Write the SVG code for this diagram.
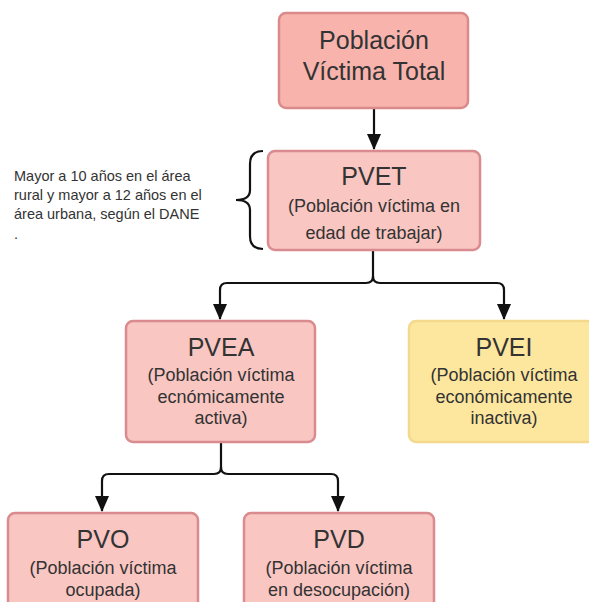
<svg xmlns="http://www.w3.org/2000/svg" width="589" height="602" viewBox="0 0 589 602">
  <defs>
    <marker id="arr" markerUnits="userSpaceOnUse" markerWidth="16" markerHeight="14" refX="15" refY="7" orient="auto" viewBox="0 0 16 14">
      <path d="M0,0 L16,7 L0,14 Z" fill="#111"/>
    </marker>
    <style>
      .pink { fill: #f9c6c2; stroke: #d98b8f; stroke-width: 2.5; }
      .pinkTop { fill: #f8b3ad; stroke: #db8a8c; stroke-width: 2.5; }
      .yellow { fill: #fde79f; stroke: #f4d88c; stroke-width: 2.5; }
      text { font-family: "Liberation Sans", Arial, sans-serif; fill: #333; text-anchor: middle; }
      .t { font-size: 25px; }
      .s { font-size: 18px; }
      .note { font-size: 14.5px; text-anchor: start; fill: #333; }
      .conn { fill: none; stroke: #111; stroke-width: 2.2; }
    </style>
  </defs>
  <rect width="589" height="602" fill="#ffffff"/>

  <g id="connectors">
    <line class="conn" x1="374" y1="108" x2="374" y2="149" marker-end="url(#arr)"/>
    <path class="conn" d="M373,250 V276 Q373,283 366,283 H227 Q220,283 220,290 V319" marker-end="url(#arr)"/>
    <path class="conn" d="M373,276 Q373,283 380,283 H497 Q504,283 504,290 V319" marker-end="url(#arr)"/>
    <path class="conn" d="M221,442 V467 Q221,474 214,474 H109 Q102,474 102,481 V511" marker-end="url(#arr)"/>
    <path class="conn" d="M221,467 Q221,474 228,474 H331 Q338,474 338,481 V511" marker-end="url(#arr)"/>
    <path class="conn" d="M263,151 Q250,151 250,164 V190 Q250,200 236,200 Q250,200 250,210 V236 Q250,249 263,249" stroke="#333"/>
  </g>

  <g id="total">
    <rect class="pinkTop" x="279" y="13" width="189" height="95" rx="7"/>
    <text class="t" x="374" y="49">Población</text>
    <text class="t" x="374" y="80">Víctima Total</text>
  </g>

  <g id="note">
    <text class="note" x="14" y="181">Mayor a 10 años en el área</text>
    <text class="note" x="14" y="200">rural y mayor a 12 años en el</text>
    <text class="note" x="14" y="219">área urbana, según el DANE</text>
    <text class="note" x="14" y="239">.</text>
  </g>

  <g id="pvet">
    <rect class="pink" x="268" y="151" width="212" height="99" rx="7"/>
    <text class="t" x="374" y="185">PVET</text>
    <text class="s" x="374" y="212">(Población víctima en</text>
    <text class="s" x="374" y="239">edad de trabajar)</text>
  </g>

  <g id="pvea">
    <rect class="pink" x="126" y="321" width="189" height="121" rx="7"/>
    <text class="t" x="221" y="356">PVEA</text>
    <text class="s" x="221" y="381">(Población víctima</text>
    <text class="s" x="221" y="403">ecnómicamente</text>
    <text class="s" x="221" y="424">activa)</text>
  </g>

  <g id="pvei">
    <rect class="yellow" x="409" y="321" width="185" height="121" rx="7"/>
    <text class="t" x="504" y="356">PVEI</text>
    <text class="s" x="504" y="381">(Población víctima</text>
    <text class="s" x="504" y="403">económicamente</text>
    <text class="s" x="504" y="424">inactiva)</text>
  </g>

  <g id="pvo">
    <rect class="pink" x="8" y="513" width="190" height="100" rx="7"/>
    <text class="t" x="103" y="548">PVO</text>
    <text class="s" x="103" y="574">(Población víctima</text>
    <text class="s" x="103" y="596">ocupada)</text>
  </g>

  <g id="pvd">
    <rect class="pink" x="244" y="513" width="190" height="100" rx="7"/>
    <text class="t" x="339" y="548">PVD</text>
    <text class="s" x="339" y="574">(Población víctima</text>
    <text class="s" x="339" y="596">en desocupación)</text>
  </g>
</svg>
